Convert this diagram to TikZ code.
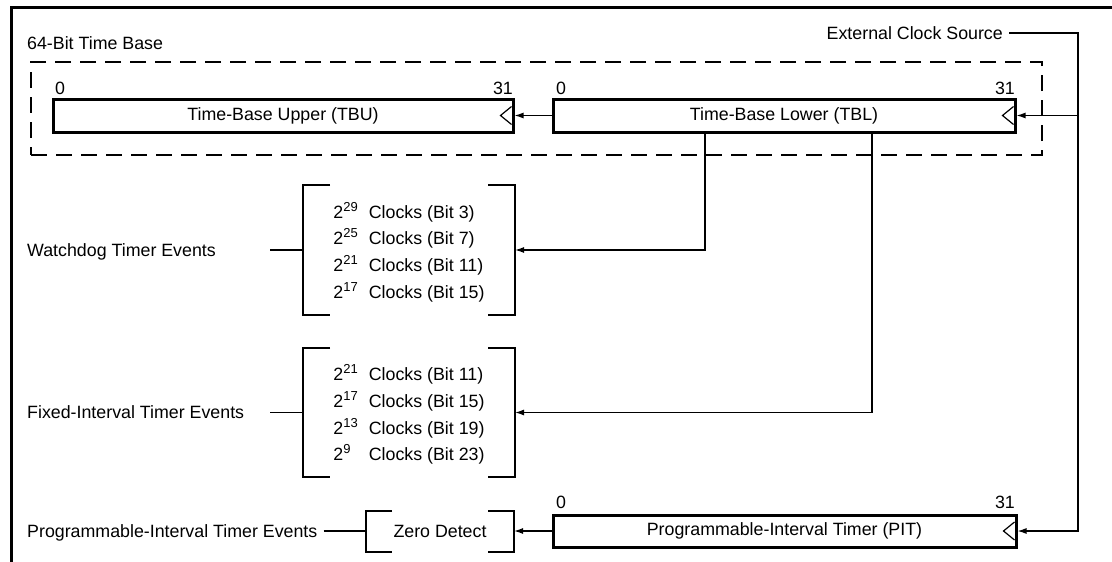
\documentclass[tikz,border=0pt]{standalone}
\usepackage{fontspec}
\setmainfont{Liberation Sans}
\usetikzlibrary{arrows.meta}
\newcommand\drawbrk[2]{%
  \draw[brkline] ([xshift=#2]#1.north west) -- (#1.north west) -- (#1.south west) -- ([xshift=#2]#1.south west);
  \draw[brkline] ([xshift=-#2]#1.north east) -- (#1.north east) -- (#1.south east) -- ([xshift=-#2]#1.south east);}
\newcommand\powsup[1]{\raisebox{7pt}{\fontsize{13}{13}\selectfont #1}}
\begin{document}
\begin{tikzpicture}[x=1pt,y=-1pt,
  every node/.style={font=\fontsize{17.8}{26.7}\selectfont, inner sep=0pt},
  regbox/.style={draw, line width=3pt, minimum height=33pt},
  conn/.style={line width=1.3pt},
  arr/.style={conn, -{Latex[length=9pt,width=6pt]}},
  brk/.style={outer sep=0pt},
  brkline/.style={line width=2pt},
  tbframe/.style={draw, dash pattern=on 16pt off 9pt, line width=1.5pt},
  frameline/.style={line width=3pt},
  clk/.style={line width=1.2pt, line join=miter},
]
\useasboundingbox (0,0) rectangle (1112,562);
\draw[frameline] (11,562) -- (11,7) -- (1112,7);

% 64-bit time base frame
\node[tbframe, minimum width=1011pt, minimum height=93pt] (tbase) at (536.5,108.5) {};
\node[anchor=base west] (tblabel) at (27,49) {64-Bit Time Base};
\node[anchor=base east, inner xsep=6pt] (ext) at (1009,39.5) {External Clock Source};

% registers
\node[regbox, minimum width=460pt] (tbu) at (283,115.5) {Time-Base Upper (TBU)};
\node[regbox, minimum width=462pt] (tbl) at (784,115.5) {Time-Base Lower (TBL)};
\node[regbox, minimum width=463pt, minimum height=32pt] (pit) at (784.5,531) {Programmable-Interval Timer (PIT)};

\node[anchor=base west] (tbu0) at (55,94) {0};
\node[anchor=base east] (tbu31) at (513,94) {31};
\node[anchor=base west] (tbl0) at (556,94) {0};
\node[anchor=base east] (tbl31) at (1015,94) {31};
\node[anchor=base west] (pit0) at (556,508) {0};
\node[anchor=base east] (pit31) at (1015,508) {31};

\foreach \n in {tbu,tbl,pit}
  \draw[clk] ([xshift=-3pt,yshift=9pt]\n.east) -- ++(-11,9) -- ++(11,9);

% bracket groups
\node[brk, minimum width=212pt, minimum height=130pt] (wd) at (409,250) {};
\node (wdtxt) at (409,253) {\begin{tabular}{@{}l@{\hspace{11pt}}l@{}}
2\powsup{29} & Clocks (Bit 3)\\
2\powsup{25} & Clocks (Bit 7)\\
2\powsup{21} & Clocks (Bit 11)\\
2\powsup{17} & Clocks (Bit 15)
\end{tabular}};
\node[brk, minimum width=212pt, minimum height=129pt] (fit) at (409,412.5) {};
\node (fittxt) at (409,415.5) {\begin{tabular}{@{}l@{\hspace{11pt}}l@{}}
2\powsup{21} & Clocks (Bit 11)\\
2\powsup{17} & Clocks (Bit 15)\\
2\powsup{13} & Clocks (Bit 19)\\
2\powsup{9} & Clocks (Bit 23)
\end{tabular}};
\node[brk, minimum width=148pt, minimum height=41pt] (zd) at (440,531) {Zero Detect};
\drawbrk{wd}{27pt}
\drawbrk{fit}{27pt}
\drawbrk{zd}{26pt}

% event labels
\node[anchor=base west] (wdlbl) at (27,256.4) {Watchdog Timer Events};
\node[anchor=base west] (fitlbl) at (27,418.9) {Fixed-Interval Timer Events};
\node[anchor=base west, inner xsep=6pt] (pitlbl) at (21,537.4) {Programmable-Interval Timer Events};

% connectors
\coordinate (ck) at (1078,33);
\coordinate (wdarr) at (705,250);
\coordinate (fitarr) at (872,412.5);
\coordinate (wdl) at (270,250);
\coordinate (fitl) at (270,412.5);

\draw[arr] (tbl.west) -- (tbu.east);
\draw[arr] (ext.east |- ck) -- (ck) -- (ck |- pit.east) -- (pit.east);
\draw[arr] (ck |- tbl.east) -- (tbl.east);
\draw[arr] (tbl.south -| wdarr) -- (wdarr) -- (wd.east);
\draw[arr] (tbl.south -| fitarr) -- (fitarr) -- (fit.east);
\draw[conn] (wdl) -- (wd.west);
\draw[conn] (fitl) -- (fit.west);
\draw[arr] (pit.west) -- (zd.east);
\draw[conn] (pitlbl.east |- zd.west) -- (zd.west);
\end{tikzpicture}
\end{document}
